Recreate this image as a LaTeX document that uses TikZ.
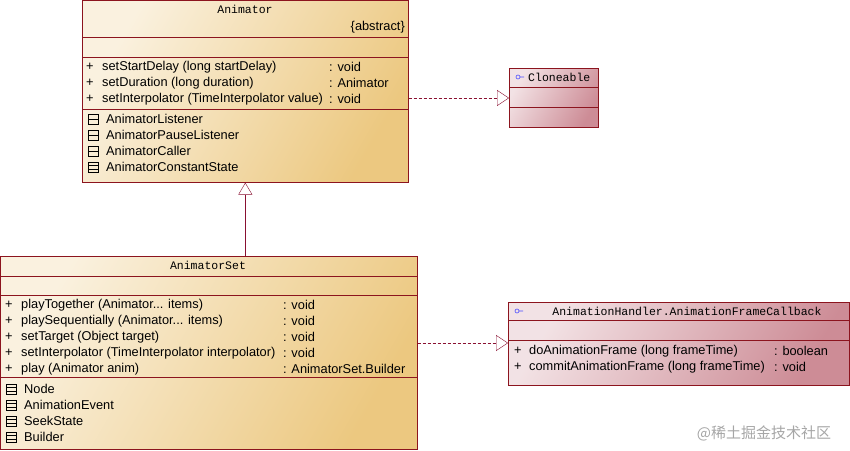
\documentclass[tikz,border=0pt]{standalone}
\usepackage{fontspec}
\setmainfont{Liberation Sans}
\newfontfamily\titlefont{Liberation Mono}
\newfontfamily\cjk{Noto Sans CJK SC}
\usetikzlibrary{arrows.meta,positioning}

\definecolor{clsfill}{RGB}{236,200,128}
\definecolor{ifcfill}{RGB}{205,140,150}
\definecolor{umlline}{RGB}{140,20,30}
\tikzset{
  cls/.style={draw=umlline, semithick, anchor=north west, inner sep=0pt,
              left color=clsfill!25!white, right color=clsfill, shading angle=60},
  iface/.style={draw=umlline, semithick, anchor=north west, inner sep=0pt,
              left color=ifcfill!25!white, right color=ifcfill, shading angle=60},
  sep/.style={draw=umlline, semithick},
  txt/.style={anchor=west, inner sep=0pt, font=\fontsize{12.8}{13}\selectfont},
  ttl/.style={inner sep=0pt, font=\titlefont\fontsize{11.5}{12}\selectfont},
  real/.style={draw=umlline!80!violet, densely dashed, -{Triangle[open, length=12pt, width=16pt, fill=white]}},
  gen/.style={draw=umlline!80!violet, -{Triangle[open, length=12pt, width=14pt, fill=white]}}
}
\newcommand{\vargs}{...}
\newcommand{\nestico}[2]{% nested class icon
  \draw[black, thin] (#1-4,#2-5) rectangle (#1+6,#2+5) (#1-4,#2) -- (#1+6,#2);}
\newcommand{\nesticoB}[2]{%
  \draw[black, thin] (#1-4,#2-5) rectangle (#1+6,#2+5) (#1-4,#2-1.7) -- (#1+6,#2-1.7) (#1-4,#2+1.7) -- (#1+6,#2+1.7);}
\newcommand{\lollipop}[2]{%
  \draw[blue!70, semithick] (#1,#2) circle (2) (#1+2,#2) -- (#1+6,#2);}

\begin{document}
\begin{tikzpicture}[x=1pt,y=-1pt]
  \useasboundingbox (0,0) rectangle (850,450);

  % Animator
  \node[cls, minimum width=326pt, minimum height=182pt] (anim) at (82,0) {};
  \draw[sep] (82,37) -- (408,37) (82,57) -- (408,57) (82,109) -- (408,109);
  \node[ttl] at (245,9) {Animator};
  \node[txt, anchor=east] at (405,27) {\{abstract\}};
  \foreach \y/\m/\r in {67/setStartDelay (long startDelay)/void,
                        83/setDuration (long duration)/Animator,
                        99/setInterpolator (TimeInterpolator value)/void} {
    \node[txt] at (86,\y) {+};
    \node[txt] at (102,\y) {\m};
    \node[txt] at (329,\y) {: \r};
  }
  \foreach \y/\n in {119/AnimatorListener,135/AnimatorPauseListener,151/AnimatorCaller}{
    \nestico{92}{\y}
    \node[txt] at (106,\y) {\n};
  }
  \nesticoB{92}{167}
  \node[txt] at (106,167) {AnimatorConstantState};

  % Cloneable
  \node[iface, minimum width=89pt, minimum height=59pt] (clone) at (509,68) {};
  \draw[sep] (509,87) -- (598,87) (509,107) -- (598,107);
  \lollipop{518}{77}
  \node[ttl, anchor=west] at (528,77) {Cloneable};

  % AnimatorSet
  \node[cls, minimum width=417pt, minimum height=193pt] (set) at (0,256) {};
  \draw[sep] (0,276) -- (417,276) (0,295) -- (417,295) (0,377) -- (417,377);
  \node[ttl] at (208,265) {AnimatorSet};
  \foreach \y/\m/\r in {305/playTogether (Animator\vargs{} items)/void,
                        321/playSequentially (Animator\vargs{} items)/void,
                        337/setTarget (Object target)/void,
                        353/setInterpolator (TimeInterpolator interpolator)/void,
                        369/play (Animator anim)/AnimatorSet.Builder} {
    \node[txt] at (5,\y) {+};
    \node[txt] at (21,\y) {\m};
    \node[txt] at (283,\y) {: \r};
  }
  \foreach \y/\n in {389/Node,405/AnimationEvent,421/SeekState,437/Builder}{
    \nesticoB{10}{\y}
    \node[txt] at (24,\y) {\n};
  }

  % AnimationHandler.AnimationFrameCallback
  \node[iface, minimum width=341pt, minimum height=83pt] (cb) at (508,302) {};
  \draw[sep] (508,320) -- (849,320) (508,340) -- (849,340);
  \lollipop{517}{311}
  \node[ttl] at (687,311) {AnimationHandler.AnimationFrameCallback};
  \foreach \y/\m/\r in {351/doAnimationFrame (long frameTime)/boolean,
                        367/commitAnimationFrame (long frameTime)/void} {
    \node[txt] at (514,\y) {+};
    \node[txt] at (529,\y) {\m};
    \node[txt] at (774,\y) {: \r};
  }

  % relations
  \draw[gen] (anim.south |- set.north) -- (anim.south);
  \draw[real] (anim.east |- 0,98) -- (clone.west |- 0,98);
  \draw[real] (set.east |- 0,343) -- (cb.west |- 0,343);

  \node[inner sep=0pt, text=gray!70, font=\cjk\fontsize{15}{16}\selectfont] at (764,433) {@稀土掘金技术社区};
\end{tikzpicture}
\end{document}
